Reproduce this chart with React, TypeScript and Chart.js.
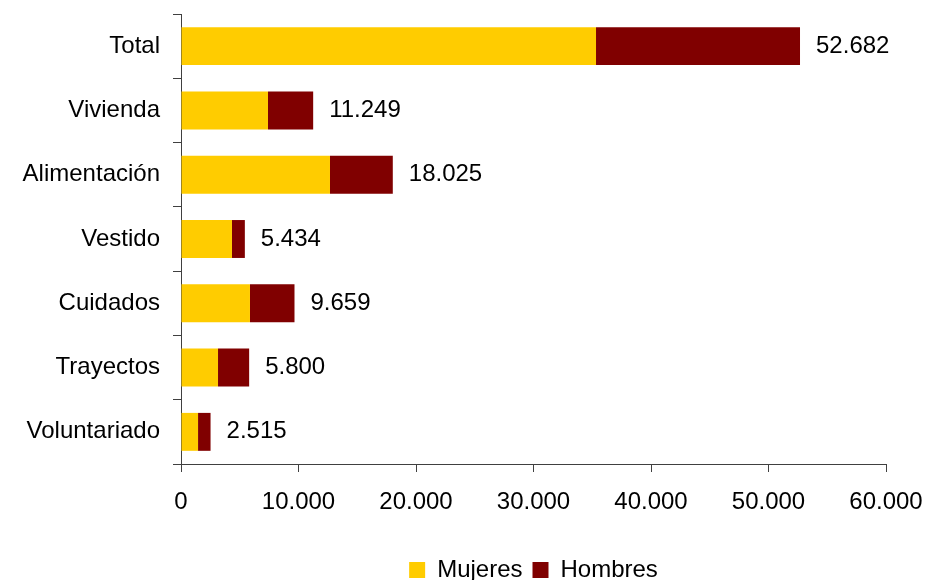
import React, { useEffect, useRef } from "react";
import { Chart, registerables } from "chart.js";

Chart.register(...registerables);

const categories = ["Total", "Vivienda", "Alimentación", "Vestido", "Cuidados", "Trayectos", "Voluntariado"];
const mujeres = [35320, 7404, 12680, 4340, 5870, 3150, 1450];
const hombres = [17362, 3845, 5345, 1094, 3789, 2650, 1065];
const xTicks = [0, 10000, 20000, 30000, 40000, 50000, 60000];

const FONT = "'Liberation Sans', Arial, sans-serif";
const AXIS_COLOR = "#404040";

const fmt = (v: number) => String(Math.round(v)).replace(/\B(?=(\d{3})+(?!\d))/g, ".");

const totalLabels = {
  id: "totalLabels",
  afterDatasetsDraw(chart: any) {
    const ctx = chart.ctx;
    const xScale = chart.scales.x;
    const meta = chart.getDatasetMeta(chart.data.datasets.length - 1);
    ctx.save();
    ctx.font = `24px ${FONT}`;
    ctx.fillStyle = "#000000";
    ctx.textAlign = "left";
    ctx.textBaseline = "middle";
    categories.forEach((_, i) => {
      const total = mujeres[i] + hombres[i];
      const x = xScale.getPixelForValue(total) + 16;
      const y = meta.data[i].y;
      ctx.fillText(fmt(total), x, y);
    });
    ctx.restore();
  },
};

export default function App() {
  const ref = useRef<HTMLCanvasElement | null>(null);

  useEffect(() => {
    document.documentElement.style.overflow = "hidden";
    document.body.style.overflow = "hidden";
    if (!ref.current) return;
    const chart = new Chart(ref.current, {
      type: "bar",
      data: {
        labels: categories,
        datasets: [
          {
            label: "Mujeres",
            data: mujeres,
            backgroundColor: "#FFCC00",
            borderWidth: 0,
            categoryPercentage: 1,
            barPercentage: 0.59,
          },
          {
            label: "Hombres",
            data: hombres,
            backgroundColor: "#800000",
            borderWidth: 0,
            categoryPercentage: 1,
            barPercentage: 0.59,
          },
        ],
      },
      options: {
        indexAxis: "y",
        responsive: false,
        animation: false,
        layout: { padding: 0 },
        plugins: {
          tooltip: { enabled: false },
          legend: {
            position: "bottom",
            fullSize: false,
            labels: {
              boxWidth: 16,
              boxHeight: 16,
              padding: 10,
              color: "#000000",
              font: { family: FONT, size: 24 },
            },
          },
        },
        scales: {
          x: {
            stacked: true,
            min: 0,
            max: 60000,
            afterBuildTicks: (scale: any) => {
              scale.ticks = xTicks.map((v) => ({ value: v }));
            },
            afterFit: (scale: any) => {
              scale.height = 84;
              scale.paddingLeft = 0;
              scale.paddingRight = 43;
            },
            ticks: {
              padding: 16,
              color: "#000000",
              font: { family: FONT, size: 24 },
              maxRotation: 0,
              callback: (v: any) => fmt(Number(v)),
            },
            grid: {
              drawOnChartArea: false,
              drawTicks: true,
              tickLength: 8,
              color: AXIS_COLOR,
            },
            border: { display: true, color: AXIS_COLOR, width: 1 },
          },
          y: {
            stacked: true,
            afterFit: (scale: any) => {
              scale.width = 181;
              scale.paddingTop = 14;
              scale.paddingBottom = 0;
            },
            ticks: {
              padding: 13,
              color: "#000000",
              font: { family: FONT, size: 24 },
            },
            grid: {
              offset: true,
              drawOnChartArea: false,
              drawTicks: true,
              tickLength: 8,
              color: AXIS_COLOR,
            },
            border: { display: true, color: AXIS_COLOR, width: 1 },
          },
        },
      },
      plugins: [totalLabels],
    });
    return () => chart.destroy();
  }, []);

  return (
    <div style={{ position: "absolute", left: 0, top: 0, width: 929, height: 592 }}>
      <canvas ref={ref} width={929} height={592} style={{ display: "block" }} />
    </div>
  );
}
